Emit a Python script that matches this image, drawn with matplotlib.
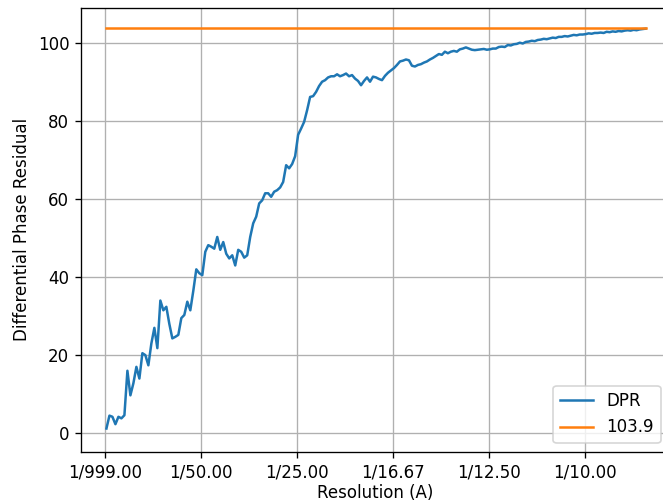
import matplotlib
matplotlib.use("Agg")
import matplotlib.pyplot as plt
import numpy as np

# differential phase residual per frequency shell
dpr = [1.2, 4.5, 4.2, 2.3, 4.2, 3.8, 4.6, 16.0, 9.7, 12.8,
       17.0, 14.0, 20.5, 20.0, 17.4, 23.0, 27.0, 21.8, 34.0, 31.5,
       32.4, 28.0, 24.3, 24.7, 25.2, 29.5, 30.3, 33.7, 31.5, 36.5,
       42.0, 41.0, 40.5, 46.5, 48.2, 47.8, 47.3, 50.3, 47.0, 49.0,
       46.0, 44.8, 45.6, 43.0, 47.0, 46.5, 45.0, 45.6, 50.3, 53.8,
       55.5, 58.9, 59.7, 61.5, 61.5, 60.6, 61.9, 62.3, 63.0, 64.4,
       68.7, 67.9, 69.0, 71.0, 76.5, 78.1, 79.8, 82.8, 86.2, 86.4,
       87.5, 89.0, 90.1, 90.5, 91.2, 91.5, 91.5, 92.0, 91.5, 91.8,
       92.2, 91.5, 91.8, 90.9, 90.3, 89.2, 90.3, 91.2, 90.1, 91.4,
       91.2, 90.8, 90.5, 91.6, 92.4, 93.0, 93.6, 94.4, 95.3, 95.5,
       95.8, 95.6, 94.2, 94.0, 94.4, 94.6, 95.0, 95.3, 95.8, 96.2,
       96.7, 97.2, 97.0, 97.8, 97.4, 97.8, 98.0, 97.8, 98.4, 98.6,
       98.9, 98.6, 98.3, 98.2, 98.3, 98.4, 98.5, 98.3, 98.4, 98.6,
       98.6, 99.0, 99.1, 99.0, 99.5, 99.4, 99.7, 99.8, 100.1, 99.9,
       100.3, 100.4, 100.6, 100.5, 100.8, 100.9, 101.1, 101.0, 101.2, 101.4,
       101.3, 101.6, 101.6, 101.8, 101.7, 101.9, 102.1, 102.0, 102.2, 102.2,
       102.3, 102.5, 102.4, 102.6, 102.6, 102.7, 102.6, 102.9, 102.8, 103.0,
       102.9, 103.1, 103.0, 103.2, 103.3, 103.2, 103.4, 103.3, 103.5, 103.6,
       103.7]
threshold = 103.9

# shells in 1/A
freq_start = 0.0003
freq_step = 0.000624
freq = freq_start + np.arange(len(dpr)) * freq_step

tick_pos = [0.0, 0.02, 0.04, 0.06, 0.08, 0.10]
tick_labels = ['1/999.00', '1/50.00', '1/25.00', '1/16.67', '1/12.50', '1/10.00']

fig = plt.figure(figsize=(663 / 120, 503 / 120), dpi=120)
ax = fig.add_axes([81 / 663, 51.5 / 503, 588 / 663, 443.5 / 503])

ax.plot(freq, dpr, label='DPR')
ax.plot(freq, [threshold] * len(freq), label=str(threshold))

ax.set_xticks(tick_pos)
ax.set_xticklabels(tick_labels)
ax.set_xlim(-0.005, 0.1175)
ax.set_ylim(-4.7, 109.0)
ax.set_xlabel('Resolution (A)', labelpad=1.5)
ax.set_ylabel('Differential Phase Residual')
ax.legend(loc='lower right')
ax.grid(True)

fig.savefig('out.png', dpi=120)
